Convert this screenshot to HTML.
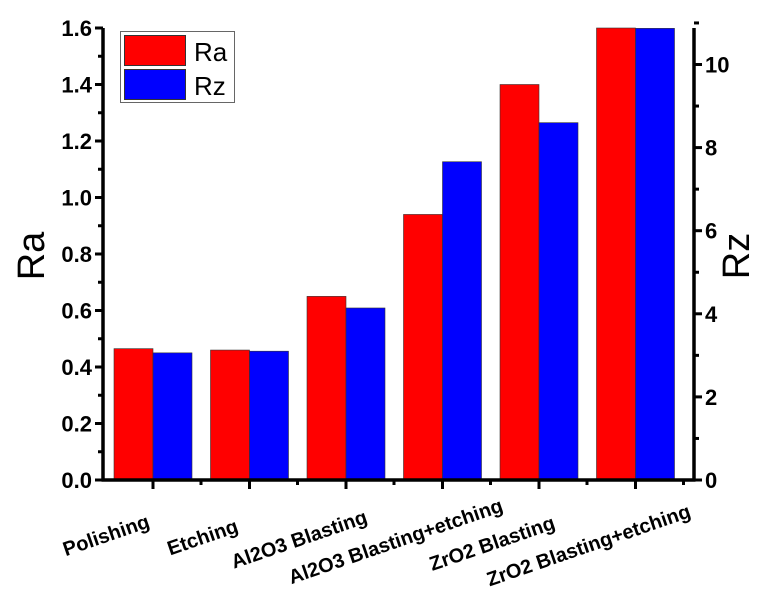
<!DOCTYPE html>
<html><head><meta charset="utf-8"><style>
body{margin:0;background:#fff}
svg{display:block;font-family:"Liberation Sans",Arial,sans-serif}
</style></head><body>
<svg id="chart" width="768" height="592"></svg>
<script>
const categories=["Polishing","Etching","Al2O3 Blasting","Al2O3 Blasting+etching","ZrO2 Blasting","ZrO2 Blasting+etching"];
const raValues=[0.465,0.46,0.65,0.94,1.40,1.60];
const rzValues=[3.06,3.1,4.14,7.66,8.6,10.87];
const raTicks=[0,0.2,0.4,0.6,0.8,1.0,1.2,1.4,1.6];
const rzTicks=[0,2,4,6,8,10];
const NS="http://www.w3.org/2000/svg";
const svg=document.getElementById('chart');
const X0=103,X1=694,Y0=480,Y1=28;
const yRa=v=>Y0-(v/1.6)*(Y0-Y1);
const yRz=v=>Y0-v*41.55;
const xC=i=>153+i*96.5;
const bw=39;
function mk(tag,attrs,parent){const e=document.createElementNS(NS,tag);for(const k in attrs)e.setAttribute(k,attrs[k]);(parent||svg).appendChild(e);return e;}
categories.forEach((c,i)=>{
  const r=mk('rect',{x:xC(i)-bw,y:yRa(raValues[i]),width:bw,height:Y0-yRa(raValues[i]),fill:'#ff0000',stroke:'#333','stroke-width':0.6});
  
  
  const b=mk('rect',{x:xC(i),y:yRz(rzValues[i]),width:bw,height:Y0-yRz(rzValues[i]),fill:'#0000ff',stroke:'#333','stroke-width':0.6});
  
  
  const t=mk('line',{x1:xC(i),x2:xC(i),y1:Y0,y2:Y0+9,stroke:'#000','stroke-width':3});
  
  
  const m=mk('line',{x1:xC(i)+48,x2:xC(i)+48,y1:Y0,y2:Y0+5,stroke:'#000','stroke-width':3});
  
  
  const l=mk('text',{x:0,y:7,'text-anchor':'middle','font-size':20,'font-weight':'bold',transform:`translate(${xC(i)-47},${535+i*2}) rotate(-19)`});
  l.textContent=c;
  
  
});
[[X0,Y0,X0,Y1],[X1,Y0,X1,Y1],[X0-1.5,Y0,X1+1.5,Y0]].forEach(a=>{
  const l=mk('line',{x1:a[0],y1:a[1],x2:a[2],y2:a[3],stroke:'#000','stroke-width':3.5});
  
  
});
raTicks.forEach((v,i)=>{
  const y=yRa(v);
  const t=mk('line',{x1:X0-8,x2:X0,y1:y,y2:y,stroke:'#000','stroke-width':3});
  
  
  if(i<raTicks.length-1){const m=mk('line',{x1:X0-5,x2:X0,y1:yRa(v+0.1),y2:yRa(v+0.1),stroke:'#000','stroke-width':3});
  
  }
  const l=mk('text',{x:X0-11,y:y+8,'text-anchor':'end','font-size':22,'font-weight':'bold'});
  l.textContent=v.toFixed(1);
  
  
});
rzTicks.forEach(v=>{
  const y=yRz(v);
  const t=mk('line',{x1:X1,x2:X1+8,y1:y,y2:y,stroke:'#000','stroke-width':3});
  
  
  const m=mk('line',{x1:X1,x2:X1+5,y1:yRz(v+1),y2:yRz(v+1),stroke:'#000','stroke-width':3});
  
  
  const l=mk('text',{x:X1+11,y:y+8,'text-anchor':'start','font-size':22,'font-weight':'bold'});
  l.textContent=v;
  
  
});
</script>
<svg style="position:absolute;left:0;top:0" width="768" height="592">
<text x="44" y="256" font-size="38" text-anchor="middle" transform="rotate(-90 44 256)" font-family="Liberation Sans,sans-serif">Ra</text>
<text x="749" y="256" font-size="38" text-anchor="middle" transform="rotate(-90 749 256)" font-family="Liberation Sans,sans-serif">Rz</text>
<g>
<rect x="120.5" y="31.5" width="114" height="71" fill="#fff" stroke="#666" stroke-width="1"/>
<rect x="124.5" y="35.5" width="61" height="30" fill="#ff0000" stroke="#333"/>
<rect x="124.5" y="69.5" width="61" height="30" fill="#0000ff" stroke="#333"/>
<text x="194" y="61" font-size="26" font-family="Liberation Sans,sans-serif">Ra</text>
<text x="194" y="95" font-size="26" font-family="Liberation Sans,sans-serif">Rz</text>
</g>
</svg>
</body></html>
